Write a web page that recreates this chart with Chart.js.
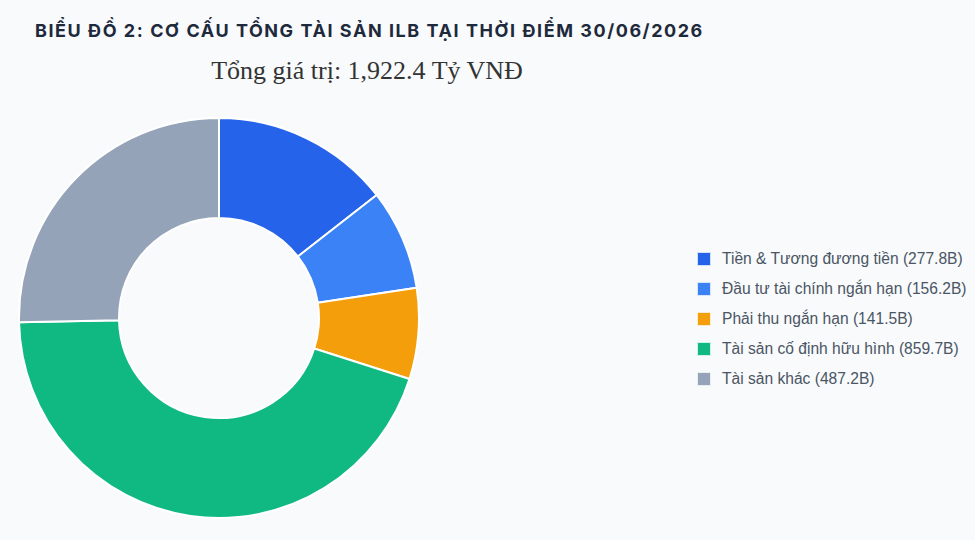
<!DOCTYPE html>
<html lang="vi">
<head>
<meta charset="utf-8">
<title>Cơ cấu tổng tài sản ILB</title>
<script src="https://cdn.jsdelivr.net/npm/chart.js@4.4.1/dist/chart.umd.min.js"></script>
<style>
    html, body {
        margin: 0;
        padding: 0;
        background: #f8fafc;
        width: 975px;
        height: 540px;
        overflow: hidden;
        position: relative;
    }
    #chart-title {
        position: absolute;
        left: 35px;
        top: 20px;
        margin: 0;
        font-family: Inter, "Open Sans", sans-serif;
        font-weight: 700;
        font-size: 18px;
        line-height: 22px;
        letter-spacing: 1.55px;
        color: #1e293b;
        white-space: nowrap;
    }
    #chart-subtitle {
        position: absolute;
        left: 0;
        width: 734px;
        top: 55px;
        text-align: center;
        font-family: "Liberation Serif", "DejaVu Serif", serif;
        font-size: 26px;
        line-height: 32px;
        color: #333333;
        white-space: nowrap;
    }
    #chart-wrap {
        position: absolute;
        left: 18px;
        top: 117px;
        width: 402px;
        height: 402px;
    }
    #legend {
        position: absolute;
        left: 697px;
        top: 244px;
        margin: 0;
        padding: 0;
        list-style: none;
        font-family: "Liberation Sans", Arial, sans-serif;
        font-size: 15.6px;
        color: #4b5563;
    }
    #legend li {
        display: flex;
        align-items: center;
        height: 30px;
        white-space: nowrap;
    }
    #legend .swatch {
        display: inline-block;
        width: 12px;
        height: 12px;
        margin-right: 11px;
        box-sizing: content-box;
        border: 1.5px solid rgba(255, 255, 255, 0.8);
    }
</style>
</head>
<body>
<h1 id="chart-title">BIỂU ĐỒ 2: CƠ CẤU TỔNG TÀI SẢN ILB TẠI THỜI ĐIỂM 30/06/2026</h1>
<div id="chart-subtitle"></div>
<div id="chart-wrap"><canvas id="assets-chart"></canvas></div>
<ul id="legend"></ul>

<script>
// Giá trị tài sản (tỷ VNĐ)
const categories = [
    'Tiền & Tương đương tiền',
    'Đầu tư tài chính ngắn hạn',
    'Phải thu ngắn hạn',
    'Tài sản cố định hữu hình',
    'Tài sản khác',
];
const values = [277.8, 156.2, 141.5, 859.7, 487.2];
const colors = ['#2563eb', '#3b82f6', '#f59e0b', '#10b981', '#94a3b8'];

const total = values.reduce((sum, v) => sum + v, 0);
document.getElementById('chart-subtitle').textContent =
    `Tổng giá trị: ${total.toLocaleString('en-US', { minimumFractionDigits: 1, maximumFractionDigits: 1 })} Tỷ VNĐ`;

// Legend rendered as HTML from the chart's own labels
const htmlLegend = {
    id: 'htmlLegend',
    afterUpdate(chart) {
        const list = document.getElementById('legend');
        list.innerHTML = '';
        const items = chart.options.plugins.legend.labels.generateLabels(chart);
        items.forEach(item => {
            const li = document.createElement('li');
            const box = document.createElement('span');
            box.className = 'swatch';
            box.style.background = item.fillStyle;
            const text = document.createElement('span');
            text.textContent = `${item.text} (${values[item.index]}B)`;
            li.appendChild(box);
            li.appendChild(text);
            list.appendChild(li);
        });
    },
};

new Chart(document.getElementById('assets-chart'), {
    type: 'doughnut',
    data: {
        labels: categories,
        datasets: [{
            data: values,
            backgroundColor: colors,
            borderColor: '#ffffff',
            borderWidth: 2,
        }],
    },
    options: {
        responsive: true,
        maintainAspectRatio: false,
        animation: false,
        cutout: '50%',
        layout: { padding: 0 },
        plugins: {
            legend: { display: false },
            tooltip: { enabled: false },
        },
    },
    plugins: [htmlLegend],
});
</script>
</body>
</html>
